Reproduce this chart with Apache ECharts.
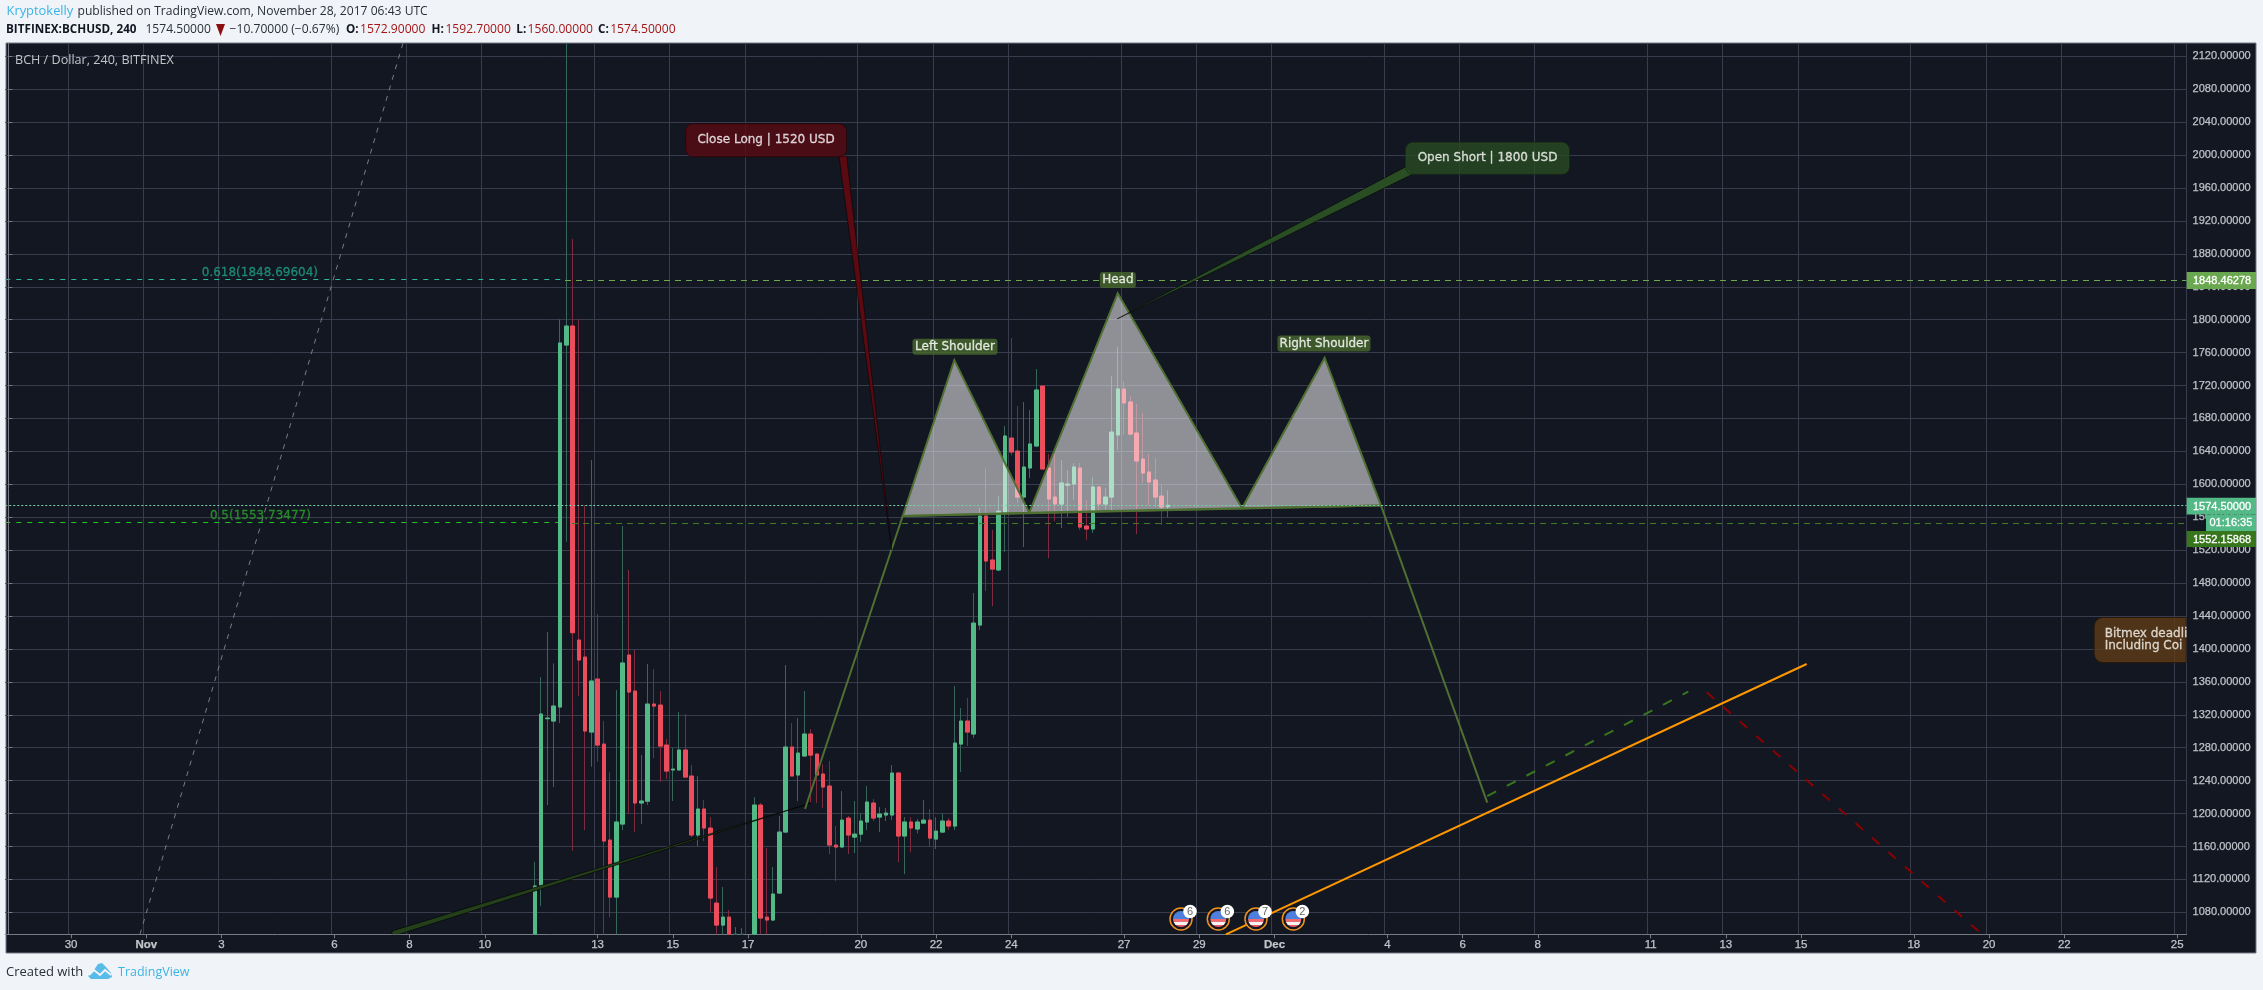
<!DOCTYPE html>
<html><head><meta charset="utf-8">
<style>html,body{margin:0;padding:0;background:#f0f3f8}#c{width:2263px;height:990px}</style>
<script src="https://cdn.jsdelivr.net/npm/echarts@6/dist/echarts.min.js"></script>
</head><body><div id="c"></div>
<script>
// ---- axes
const priceTicks=[1080,1120,1160,1200,1240,1280,1320,1360,1400,1440,1480,1520,1560,1600,1640,1680,1720,1760,1800,1840,1880,1920,1960,2000,2040,2080,2120];
const priceMin=1053.3,priceMax=2135.8;
const timeTickSlots=[10,22,34,52,64,76,94,106,118,136,148,160,178,190,202,220,232,244,262,274,286,304,316,328,346];
const timeTickLabels=['30','Nov','3','6','8','10','13','15','17','20','22','24','27','29','Dec','4','6','8','11','13','15','18','20','22','25'];
const slotCount=348;
// ---- candles (4h slots, first candle sits on slot 84)
const firstSlot=84;
const opens=[1040,1113.1,1315.2,1312.4,1329.4,1769.2,1792.3,1410.8,1390.1,1299,1363.4,1284.4,1167.8,1098.5,1187.2,1392.6,1348.8,1212.8,1215,1333,1331.8,1283.2,1252.9,1252.9,1277.2,1245.6,1173.9,1205.5,1182.4,1091.2,1064.5,1074.2,1030,1040,1035,1045,1210.3,1074.2,1070.6,1103.4,1177.5,1280.8,1246.8,1269.9,1296.6,1272.3,1248,1233.4,1161.7,1159.3,1194.5,1171.4,1175,1189.7,1212.8,1195.7,1198.2,1198.2,1249.2,1172.7,1189.7,1181.2,1188.4,1192,1169,1177.5,1190.9,1184.8,1284.4,1312.4,1296.6,1429,1561.5,1508,1495.9,1566.3,1656.2,1640.4,1584.5,1619.8,1646.5,1719.4,1619.8,1584.5,1576,1599,1600.3,1619.8,1549.3,1545.7,1596.7,1576,1584.5,1659.9,1715.8,1700,1662.3,1630.7,1614.9,1605.2,1585.7,1572.9];
const closes=[1112,1320.9,1316,1330.6,1771.7,1792.3,1419.7,1386.5,1300.2,1361,1283.2,1166.6,1098.5,1189.7,1382.9,1347.6,1212.8,1215.2,1333,1330.6,1282,1251.6,1254,1277.2,1244.3,1173.9,1205.5,1182.4,1097.3,1064.5,1074.2,1045,1040,1035,1045,1210.3,1073,1070.6,1102.2,1177.5,1280.8,1245.6,1273.5,1296.6,1271,1246.8,1232.2,1161.7,1159.3,1192,1173.9,1175,1190.9,1214,1194.5,1199.4,1200.6,1249.2,1172.7,1189.7,1182.4,1189.7,1192,1170.2,1178.7,1190.9,1184.8,1285.6,1312.4,1299,1431.4,1561.5,1506.8,1497,1567.2,1658.7,1639.2,1584.5,1621,1649,1714.6,1618.6,1582.1,1576,1601.6,1600.3,1621,1548,1545.7,1596.7,1576,1584.5,1663.5,1715.8,1698.8,1661,1628.3,1613.7,1602.8,1584.5,1572.4,1574.5];
const lows=[1030,1087.6,1210.3,1232.2,1310,1530.3,1154.8,1342.8,1180,1256.9,1263,1050,1074.2,1050,1180,1200,1177.5,1187.2,1210.3,1267.4,1238.3,1241.9,1215.2,1252.9,1244.3,1171.4,1160.5,1166.6,1080.3,1050,1050,1040,1025,1025,1030,1040,1050,1050,1069.4,1102.2,1177.5,1245.6,1215.2,1269.9,1212.8,1212.8,1206.7,1150.8,1118,1159.3,1150.8,1152,1165.4,1180,1190.9,1177.5,1190.9,1192,1141,1126.5,1153.2,1175.9,1188.4,1160.5,1156.9,1176.3,1180,1180,1250.4,1282,1291.7,1423,1470.4,1452,1494.7,1517.8,1635,1577,1523.8,1607.6,1646.5,1618.6,1510.4,1555,1546.9,1560.2,1580.9,1544.4,1532.3,1540.8,1568.7,1570,1568.7,1641.6,1660,1660,1539.6,1601.6,1574.8,1572.4,1550.5,1560];
const highs=[1141,1365.8,1420.5,1382.4,1800.4,2450,1898,1800.4,1574.4,1629.5,1442.4,1312.4,1250.4,1350,1549.3,1495.9,1398.7,1271,1381.6,1375.5,1348.8,1290.5,1279.6,1323.3,1320.9,1258.9,1245.6,1216.4,1195.7,1135,1110.7,1082.7,1062,1060.9,1050,1220,1212.8,1158,1135,1197,1380.4,1310,1316,1348.8,1302.7,1272.3,1260,1263.8,1184.8,1227.3,1197,1215.2,1200,1233.4,1217.6,1207.9,1206.7,1258.9,1250.4,1195.7,1195.7,1193.3,1216.4,1205.5,1195.7,1199.4,1194.5,1354.9,1328.2,1340.3,1467.9,1571.6,1619.4,1544.5,1585.8,1670.8,1777.7,1695,1700,1690.2,1740,1719.4,1636.8,1636.8,1629.5,1617.3,1625.9,1625.9,1580.9,1608.8,1598,1595.5,1731.6,1766.8,1725.5,1707.3,1697.5,1686.6,1636.8,1631.9,1599.1,1592.7];
// ---- drawing-tool points: [slot, price]
const patternLead=[[127.09,1205.5],[142.68,1561.5]];
const patternTail=[[218.99,1574.2],[235.94,1213.2]];
const shoulderLeft=[[142.68,1561.5],[150.91,1751],[162.87,1565.5]];
const headPeak=[[162.87,1565.5],[176.98,1832.1],[196.81,1571]];
const shoulderRight=[[196.81,1571],[209.99,1753.5],[218.99,1574.2]];
const neckline=[[142.68,1561.5],[218.99,1574.2]];
const bounceDash=[[235.94,1221.3],[268.01,1348]];
const dropDash=[[270.95,1347.3],[314.82,1053.6]];
const orangeTrend=[[194.25,1053.3],[286.9,1381.7]];
const greyTrend=[[20.99,1053.3],[62.95,2135.8]];
const fib618=[[-0.5,1848.69604],[88.48,1848.69604]];
const fib500=[[-0.5,1553.73477],[88.48,1553.73477]];
const level1848=[[88.8,1848.46278],[347.5,1848.46278]];
const level1552=[[89.92,1552.15868],[347.5,1552.15868]];
const lastPrice=[[-0.5,1574.5],[347.5,1574.5]];
const closeLongTail=[[132.51,1998.9],[133.74,1998.9],[140.92,1520.2]];
const openShortTail=[[222.97,1985.9],[224.09,1977],[176.91,1801]];
const hiddenNoteTail=[[128.05,1212.8],[61.2,1057.3],[61.2,1050.6]];
const eventSlots=[187.08,193.03,199.04,205];
const eventCounts=[6,6,7,2];
const eventPrice=1071.9;

const slots=[];for(let i=0;i<slotCount;i++)slots.push('s'+i);
const tickMap={};timeTickSlots.forEach((s,i)=>tickMap[s]=timeTickLabels[i]);
const isTick=i=>tickMap[i]!==undefined;
const pad=Array(firstSlot).fill('-');
const inView=v=>Math.min(priceMax,Math.max(priceMin+0.1,v));
const wickRows=pad.concat(opens.map((o,i)=>highs[i]<priceMin?'-':[inView(o),inView(closes[i]),inView(lows[i]),inView(highs[i])]));
const bodyRows=pad.concat(opens.map((o,i)=>Math.max(o,closes[i])<priceMin?'-':[inView(o),inView(closes[i]),inView(Math.min(o,closes[i])),inView(Math.max(o,closes[i]))]));

const line=(name,data,color,width,dash,z)=>({name,type:'line',xAxisIndex:1,yAxisIndex:0,data,symbol:'none',silent:true,z,animation:false,
  lineStyle:{color,width,type:dash||'solid',cap:'butt'}});
const hline=(name,points,color,dash,z)=>({name,type:'custom',coordinateSystem:'cartesian2d',xAxisIndex:1,yAxisIndex:0,data:points,encode:{x:0,y:1},silent:true,z,clip:true,
  renderItem:(p,api)=>{if(p.dataIndex!==0)return null;const a=api.coord(points[0]),b=api.coord(points[1]),y=Math.floor(a[1]+.2)+.5;
    return {type:'line',shape:{x1:a[0],y1:y,x2:b[0],y2:y},style:{stroke:color,lineWidth:1,lineDash:dash}};}});
const poly=(name,points,fill,stroke,lw,z)=>({name,type:'custom',coordinateSystem:'cartesian2d',xAxisIndex:1,yAxisIndex:0,data:points,encode:{x:0,y:1},silent:true,z,clip:true,
  renderItem:(p,api)=>p.dataIndex!==0?null:{type:'polygon',shape:{points:points.map(q=>api.coord(q))},style:{fill,stroke,lineWidth:lw}}});
const note=(name,pt,text,w,h,bg,border,color,font,extra)=>({name,type:'scatter',xAxisIndex:1,yAxisIndex:0,data:[pt],symbolSize:1,itemStyle:{color:'transparent'},silent:true,z:12,clip:false,
  label:Object.assign({show:true,position:'inside',formatter:text,width:w,height:h,lineHeight:h,align:'center',verticalAlign:'middle',backgroundColor:bg,borderColor:border,borderWidth:border?1:0,borderRadius:7,color,textBorderColor:color,textBorderWidth:.3,fontFamily:'DejaVu Sans',fontSize:font,padding:0},extra||{})});
const txt=(text,x,y,fill,font,extra)=>({type:'text',z:60,silent:true,style:Object.assign({text,x,y,fill,font,textVerticalAlign:'middle'},extra||{})});
const headerFont='12.1px "Open Sans"',headerBold='bold 11.7px "Open Sans"';
const tag=(y,h,x,w,bg,text,tx)=>[{type:'rect',z:50,silent:true,shape:{x,y,width:w,height:h},style:{fill:bg}},txt(text,tx,y+h/2+.5,'#ffffff','11px "Liberation Sans"',{stroke:'#ffffff',lineWidth:.3})];

const flagSeries={name:'events',type:'custom',coordinateSystem:'cartesian2d',xAxisIndex:1,yAxisIndex:0,silent:true,z:13,clip:false,
  data:eventSlots.map((s,i)=>[s,eventPrice,eventCounts[i]]),encode:{x:0,y:1},
  renderItem:(p,api)=>{const c=api.coord([api.value(0),api.value(1)]);const x=c[0],y=c[1];return {type:'group',children:[
    {type:'circle',shape:{cx:x,cy:y,r:11},style:{fill:'#131722',stroke:'#f0921e',lineWidth:1.5}},
    {type:'circle',shape:{cx:x,cy:y,r:8},style:{fill:{type:'linear',x:0,y:0,x2:0,y2:1,colorStops:[{offset:0,color:'#4f7fdc'},{offset:.5,color:'#4f7fdc'},{offset:.5,color:'#f06a72'},{offset:.7,color:'#f06a72'},{offset:.7,color:'#f4f4f4'},{offset:.85,color:'#f4f4f4'},{offset:.85,color:'#ee5a66'},{offset:1,color:'#ee5a66'}]}}},
    {type:'circle',shape:{cx:x+9,cy:y-7.5,r:6.8},style:{fill:'#fff'}},
    {type:'text',style:{text:String(api.value(2)),x:x+9,y:y-7.5,fill:'#666',font:'11px "Liberation Sans"',textAlign:'center',textVerticalAlign:'middle'}}]};}};

const option={animation:false,backgroundColor:'#f0f3f8',
 grid:{left:5.27,top:43.3,width:2181.26,height:891,containLabel:false,show:false},
 xAxis:[{type:'category',data:slots,boundaryGap:true,position:'bottom',z:3,
   axisLine:{show:true,lineStyle:{color:'#787b86',width:1}},
   axisTick:{show:true,alignWithLabel:true,interval:isTick,length:4,lineStyle:{color:'#787b86'}},
   axisLabel:{show:true,interval:isTick,margin:5,hideOverlap:false,fontFamily:'Liberation Sans',fontSize:11.5,color:'#c3c5ca',textBorderColor:'#c3c5ca',textBorderWidth:.25,
     formatter:(v,i)=>{const t=tickMap[i]||'';return (t==='Nov'||t==='Dec')?'{m|'+t+'}':t;},rich:{m:{fontWeight:'bold',fontFamily:'Liberation Sans',fontSize:11.5,color:'#c3c5ca'}}},
   splitLine:{show:true,interval:isTick,lineStyle:{color:'#383c4c',width:1}}},
  {type:'value',min:-0.5,max:347.5,show:false,splitLine:{show:false}}],
 yAxis:[{type:'value',position:'right',min:priceMin,max:priceMax,scale:true,z:3,
   axisLine:{show:true,lineStyle:{color:'#787b86',width:1}},
   axisTick:{show:true,customValues:priceTicks,length:4,lineStyle:{color:'#787b86'}},
   axisLabel:{show:true,customValues:priceTicks,margin:6,padding:[3,0,0,0],fontFamily:'Liberation Sans',fontSize:11,color:'#c0c2c8',textBorderColor:'#c0c2c8',textBorderWidth:.25,formatter:v=>v.toFixed(5)},
   splitLine:{show:true,customValues:priceTicks,lineStyle:{color:'#383c4c',width:1}}}],
 graphic:[
  {type:'rect',z:-10,zlevel:0,silent:true,shape:{x:6,y:43,width:2250,height:910},style:{fill:'#131722',stroke:'#787b86',lineWidth:1}},
  txt('Kryptokelly',6.5,11.7,'#3cb4e6','12.9px "Open Sans"'),
  txt('published on TradingView.com, November 28, 2017 06:43 UTC',77.5,11.7,'#2a2e39',headerFont),
  txt('BITFINEX:BCHUSD, 240',6,29.7,'#131722',headerBold),
  txt('1574.50000',145.4,29.7,'#2a2e39',headerFont),
  {type:'polygon',z:60,silent:true,shape:{points:[[216,24],[225,24],[220.5,36]]},style:{fill:'#8b0f0f'}},
  txt('\u221210.70000 (\u22120.67%)',229.6,29.7,'#2a2e39',headerFont),
  txt('O:',346,29.7,'#131722',headerBold),txt('1572.90000',360,29.7,'#a31515',headerFont),
  txt('H:',431.6,29.7,'#131722',headerBold),txt('1592.70000',445.4,29.7,'#a31515',headerFont),
  txt('L:',516.3,29.7,'#131722',headerBold),txt('1560.00000',527.6,29.7,'#a31515',headerFont),
  txt('C:',598,29.7,'#131722',headerBold),txt('1574.50000',610.2,29.7,'#a31515',headerFont),
  txt('BCH / Dollar, 240, BITFINEX',15,60.7,'#c3c5ca','12.6px "Open Sans"'),
  ...tag(272,17,2186.7,69.3,'#6aa84f','1848.46278',2193),
  ...tag(497.7,16.7,2186.7,69.3,'#53b987','1574.50000',2193),
  ...tag(514.4,16.6,2206,50,'#53b987','01:16:35',2209.5),
  ...tag(531,16,2186.7,69.3,'#38761d','1552.15868',2193),
  txt('Created with',6,972.3,'#2a2e39','13px "Open Sans"'),
  {type:'polygon',z:60,silent:true,shape:{points:[[88,976],[94,970],[98,964],[102,963],[106,967],[111,973],[112,977],[108,979],[91,979]]},style:{fill:'#58bbe8'}},
  {type:'polyline',z:61,silent:true,shape:{points:[[89,975],[94,970],[100,975],[105,970],[111,975]]},style:{stroke:'#f0f3f8',lineWidth:2,fill:null}},
  txt('TradingView',118,972.3,'#3cb4e6','12.5px "Open Sans"')
 ],
 series:[
  hline('fib 0.618',fib618,'#2ab8a0',[5,6],3),
  hline('fib 0.5',fib500,'#1fc81f',[5,6],3),
  line('grey trend',greyTrend,'#7a7c85',1,[5,6],3),
  {name:'wicks',type:'candlestick',data:wickRows,barWidth:4,z:4,silent:true,itemStyle:{color:'#37675a',color0:'#7f2b3f',borderColor:'#37675a',borderColor0:'#7f2b3f',borderWidth:1}},
  {name:'bodies',type:'candlestick',data:bodyRows,barWidth:4,z:5,silent:true,itemStyle:{color:'#53b987',color0:'#eb4d5c',borderColor:'#53b987',borderColor0:'#eb4d5c',borderWidth:1}},
  hline('1848 level',level1848,'#6aa84f',[6,5],6),
  hline('1552 level',level1552,'#3f7a26',[6,5],6),
  poly('note tail',hiddenNoteTail,'#24401a','rgba(0,0,0,.6)',1,7),
  poly('left shoulder',shoulderLeft,'rgba(255,255,255,.52)','#4f6f33',2,7),
  poly('head',headPeak,'rgba(255,255,255,.52)','#4f6f33',2,7),
  poly('right shoulder',shoulderRight,'rgba(255,255,255,.52)','#4f6f33',2,7),
  line('neckline',neckline,'#4f6f33',2,'solid',8),
  line('lead',patternLead,'#4f6f33',2,'solid',8),
  line('tail',patternTail,'#4f6f33',2,'solid',8),
  line('bounce',bounceDash,'#38761d',2,[10,12],8),
  line('drop',dropDash,'#8b0000',2,[10,12],8),
  line('orange',orangeTrend,'#ff9800',2,'solid',8),
  hline('last price',lastPrice,'#79d3ad',[2,2],9),
  poly('close long tail',closeLongTail,'#5c0a12','rgba(0,0,0,.5)',1,10),
  poly('open short tail',openShortTail,'#2a4e24','rgba(0,0,0,.5)',1,10),
  note('close long',[120.87,2018.1],'Close Long | 1520 USD',160,32,'rgba(92,10,18,.95)','#2c0508','#f4f2f2',12),
  note('open short',[235.98,1996],'Open Short | 1800 USD',163,31,'rgba(42,78,36,.95)','#1a3016','#f4f6f2',12),
  note('left shoulder label',[151.02,1767],'Left Shoulder',85,16,'#486a2e',null,'#ffffff',12,{borderRadius:3}),
  note('head label',[177,1848.2],'Head',36,16,'#486a2e',null,'#ffffff',12,{borderRadius:3}),
  note('right shoulder label',[209.89,1771.1],'Right Shoulder',93,16,'#486a2e',null,'#ffffff',12,{borderRadius:3}),
  note('fib label .618',[40.12,1857.1],'0.618(1848.69604)',118,14,'transparent',null,'#1f9e85',12),
  note('fib label .5',[40.2,1561.8],'0.5(1553.73477)',104,14,'transparent',null,'#2aa02a',12),
  note('bitmex',[332.85,1410.8],'Bitmex deadli\nIncluding Coi',81,26,'#5f3c18','#2c1a08','#f4f0ea',12,{lineHeight:12.5,align:'left',padding:[9,0,9,10],borderRadius:[8,0,0,8]}),
  flagSeries
 ]};
const chart=echarts.init(document.getElementById('c'),null,{renderer:'canvas',width:2263,height:990});
chart.setOption(option);
</script></body></html>
